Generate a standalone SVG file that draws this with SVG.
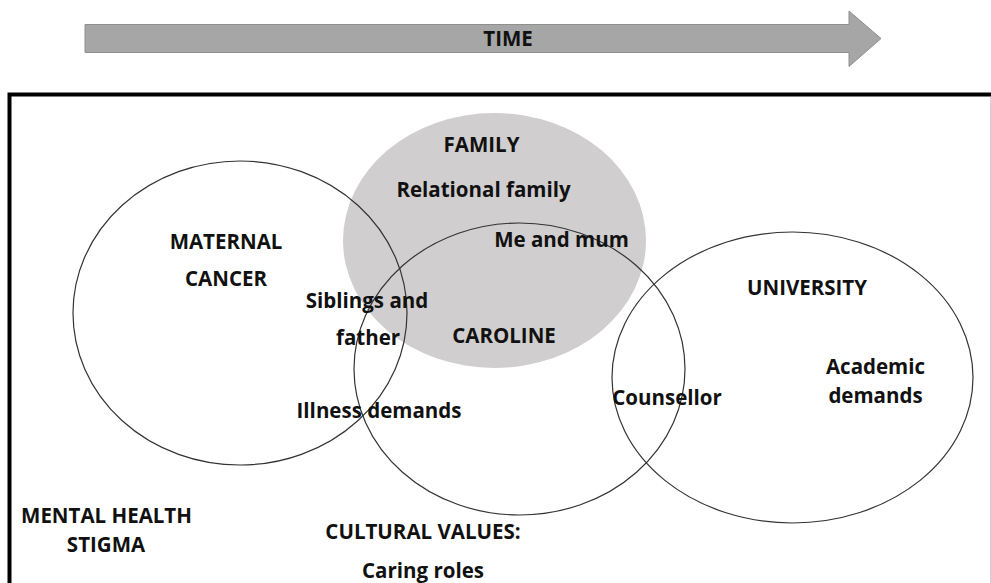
<svg xmlns="http://www.w3.org/2000/svg" width="991" height="583" viewBox="0 0 991 583">
<style>
  text { font-family: "Open Sans", "Liberation Sans", sans-serif; font-weight: 700; font-size: 20.5px; fill: #111; text-anchor: middle; }
  .ring { fill: none; stroke: #333; stroke-width: 1.2; }
</style>
<rect width="991" height="583" fill="#fff"/>
<g id="time-arrow">
  <polygon points="85,24.5 849,24.5 849,11 881,38.5 849,66.5 849,52.5 85,52.5" fill="#a6a6a6" stroke="#8f8f8f" stroke-width="1"/>
  <text x="508" y="46">TIME</text>
</g>
<g id="frame">
  <path d="M9.5,583 V94.5 H991" fill="none" stroke="#000" stroke-width="4"/>
  <line x1="990.5" y1="97" x2="990.5" y2="583" stroke="#d4d4d4" stroke-width="1"/>
</g>
<g id="family">
  <ellipse cx="494.5" cy="240.5" rx="151.5" ry="127.5" fill="#d0cece"/>
</g>
<g id="connectors"></g>
<g id="maternal-cancer">
  <ellipse class="ring" cx="240" cy="313" rx="167" ry="152"/>
  <text x="226" y="249">MATERNAL</text>
  <text x="226" y="286">CANCER</text>
</g>
<g id="caroline">
  <ellipse class="ring" cx="519.5" cy="369" rx="165.5" ry="146"/>
</g>
<g id="university">
  <ellipse class="ring" cx="792.5" cy="377.5" rx="180.5" ry="145.5"/>
  <text x="807" y="295">UNIVERSITY</text>
  <text x="875.5" y="374">Academic</text>
  <text x="875.5" y="403">demands</text>
</g>
<g id="labels">
  <text x="481.5" y="152">FAMILY</text>
  <text x="483.5" y="197">Relational family</text>
  <text x="561.5" y="247">Me and mum</text>
  <text x="367" y="308">Siblings and</text>
  <text x="368" y="345">father</text>
  <text x="504" y="343">CAROLINE</text>
  <text x="379" y="418">Illness demands</text>
  <text x="667" y="405">Counsellor</text>
</g>
<g id="context">
  <text x="106.5" y="523">MENTAL HEALTH</text>
  <text x="106" y="552">STIGMA</text>
  <text x="423" y="539">CULTURAL VALUES:</text>
  <text x="423" y="578">Caring roles</text>
</g>
</svg>
